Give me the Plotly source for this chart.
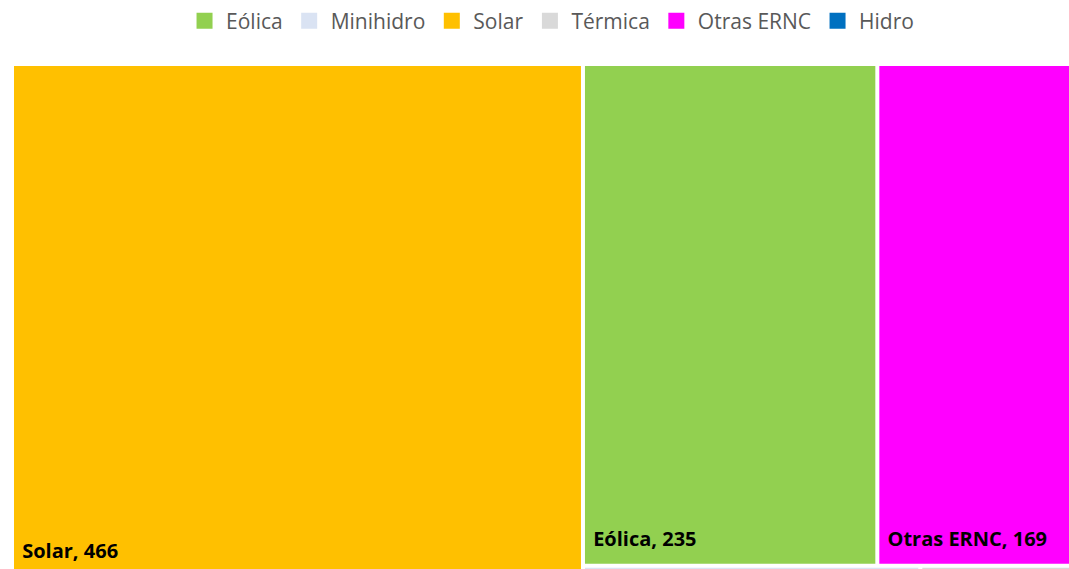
import plotly.graph_objects as go

# Data (order as in the legend)
categories = ["Eólica", "Minihidro", "Solar", "Térmica", "Otras ERNC", "Hidro"]
values = [235, 6, 466, 2.8, 169, 0.2]
colors = ["#92D050", "#DAE3F3", "#FFC000", "#D9D9D9", "#FF00FF", "#0070C0"]
# grouping used by the tiling (Solar column, first row, second row)
groups = ["fila1", "fila2", "root", "fila2", "fila1", "fila2"]

# Build hierarchy
ids = ["root", "resto", "fila1", "fila2"]
parents = ["", "root", "resto", "resto"]
labels = ["", "", "", ""]
vals = [0, 0, 0, 0]
cols = ["#FFFFFF"] * 4
texts = ["", "", "", ""]
for c, v, col, g in zip(categories, values, colors, groups):
    ids.append(c)
    parents.append(g)
    labels.append(c)
    vals.append(v)
    cols.append(col)
    texts.append(f"&nbsp;<sup><span style='font-size:20px'><b>{c}, {v:g}</b></span></sup>")

fig = go.Figure()
fig.add_trace(go.Treemap(
    ids=ids, parents=parents, labels=labels, values=vals,
    branchvalues="remainder",
    marker=dict(colors=cols, line=dict(width=0), pad=dict(t=0, l=0, r=0, b=0),
                depthfade=False),
    tiling=dict(packing="slice-dice", pad=4),
    pathbar=dict(visible=False),
    text=texts, textinfo="text",
    textposition="bottom left",
    textfont=dict(family="Open Sans", size=20, color="#000000"),
    hoverinfo="label+value",
    sort=True,
))

# legend entries
for c, col in zip(categories, colors):
    fig.add_trace(go.Scatter(
        x=[None], y=[None], mode="markers", name=c,
        marker=dict(symbol="square", size=16, color=col),
        showlegend=True,
    ))

fig.update_layout(
    width=1087, height=575,
    margin=dict(l=14, r=0, t=66, b=0),
    paper_bgcolor="white", plot_bgcolor="white",
    xaxis=dict(visible=False), yaxis=dict(visible=False),
    uniformtext=dict(minsize=16, mode="hide"),
    legend=dict(orientation="h", x=0.5005, xanchor="center", y=1.088, yanchor="middle",
                font=dict(family="Open Sans", size=21, color="#595959"),
                itemsizing="trace", itemwidth=33, bgcolor="rgba(0,0,0,0)"),
)

fig.write_html(
    "out.html",
    config={"displayModeBar": False},
    post_script="document.body.style.margin='0';document.body.style.overflow='hidden';document.documentElement.style.overflow='hidden';",
)
